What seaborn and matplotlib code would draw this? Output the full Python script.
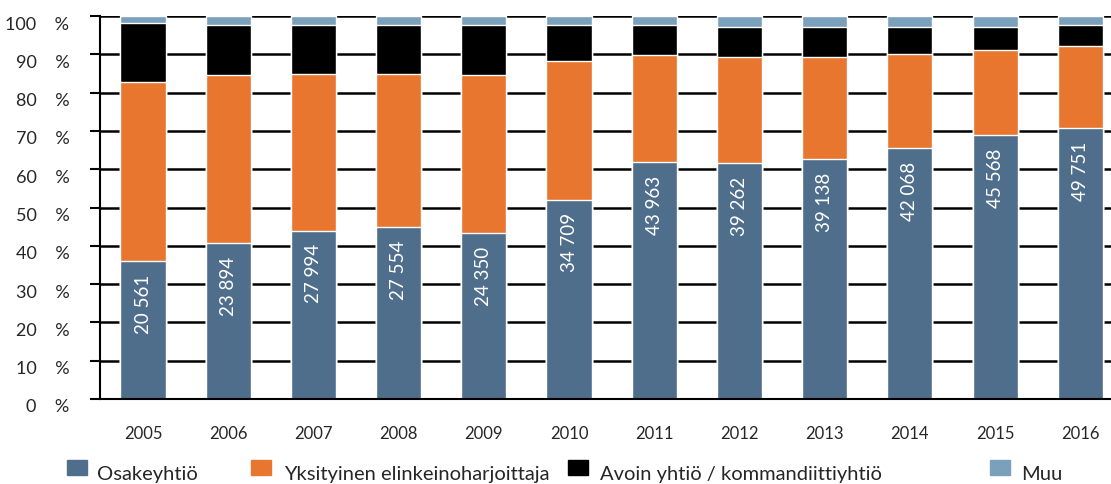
import numpy as np
import pandas as pd
import seaborn as sns
import matplotlib.pyplot as plt
from matplotlib.patches import Rectangle
from matplotlib.transforms import ScaledTranslation

# ==========================================
# DATA (shares in %)
# ==========================================
YEARS = ["2005", "2006", "2007", "2008", "2009", "2010",
         "2011", "2012", "2013", "2014", "2015", "2016"]
OSAKEYHTIO = [36.0, 40.7, 43.9, 44.9, 43.3, 52.0, 61.9, 61.6, 62.7, 65.5, 68.9, 70.8]
YKSITYINEN = [46.8, 43.9, 41.0, 40.0, 41.3, 36.3, 27.9, 27.7, 26.6, 24.6, 22.2, 21.4]
AVOIN = [15.4, 13.1, 12.8, 12.8, 13.1, 9.4, 7.9, 7.8, 7.8, 7.0, 6.0, 5.5]
MUU = [1.8, 2.3, 2.3, 2.3, 2.3, 2.3, 2.3, 2.9, 2.9, 2.9, 2.9, 2.3]
COUNT_LABELS = ["20 561", "23 894", "27 994", "27 554", "24 350", "34 709",
                "43 963", "39 262", "39 138", "42 068", "45 568", "49 751"]

SERIES = ["Osakeyhtiö", "Yksityinen elinkeinoharjoittaja",
          "Avoin yhtiö / kommandiittiyhtiö", "Muu"]
COLORS = ["#4F6E8C", "#E8762F", "#000000", "#7BA0BC"]
# ==========================================

sns.set_theme(style="white")
plt.rcParams["font.family"] = ["Lato", "DejaVu Sans"]

df = pd.DataFrame({"year": YEARS, "a": OSAKEYHTIO, "b": YKSITYINEN,
                   "c": AVOIN, "d": MUU})
df["cum_a"] = df["a"]
df["cum_b"] = df["cum_a"] + df["b"]
df["cum_c"] = df["cum_b"] + df["c"]
df["cum_d"] = df["cum_c"] + df["d"]

fig = plt.figure(figsize=(11.11, 4.85), dpi=100)
ax = fig.add_axes([100 / 1111, 1 - 400 / 485, 1011 / 1111, 383 / 485])

# stacked bars: draw cumulative totals from the top layer down
for col, color in zip(["cum_d", "cum_c", "cum_b", "cum_a"], COLORS[::-1]):
    sns.barplot(data=df, x="year", y=col, color=color, width=0.53,
                saturation=1, order=YEARS, ax=ax, zorder=2)

# value labels inside the blue segment, near its top
for i, (val, lab) in enumerate(zip(OSAKEYHTIO, COUNT_LABELS)):
    ax.annotate(lab, (i, val), xytext=(0, -9), textcoords="offset points",
                rotation=90, ha="center", va="top", color="white",
                fontsize=13.5, zorder=3)

ax.set_xlim(-0.505, 11.36)
ax.set_ylim(0, 100)
ax.set_yticks(range(0, 101, 10))
ax.set_yticklabels([f"{v}    %" for v in range(0, 101, 10)], fontsize=13)
ax.tick_params(axis="y", length=7, width=1.5, color="black", pad=15, left=True)
ax.tick_params(axis="x", length=0, pad=19, labelsize=12)
for t in ax.get_yticklabels():
    t.set_transform(t.get_transform() + ScaledTranslation(0, -6 / 100, fig.dpi_scale_trans))

ax.yaxis.grid(True, color="black", lw=1.8)
ax.set_axisbelow(True)
ax.set_xlabel("")
ax.set_ylabel("")
for side in ["top", "right"]:
    ax.spines[side].set_visible(False)
for side in ["left", "bottom"]:
    ax.spines[side].set_color("black")
    ax.spines[side].set_linewidth(1.5)

# legend along the bottom edge
legend_x = [67, 251, 568, 990]
text_x = [97, 284, 600, 1021]
for sx, tx, name, color in zip(legend_x, text_x, SERIES, COLORS):
    fig.patches.append(Rectangle((sx / 1111, 1 - 476 / 485), 20 / 1111, 15 / 485,
                                 transform=fig.transFigure, color=color))
    fig.text(tx / 1111, 5 / 485, name, fontsize=14.5, va="baseline", ha="left")

plt.savefig("out.png", dpi=100)
